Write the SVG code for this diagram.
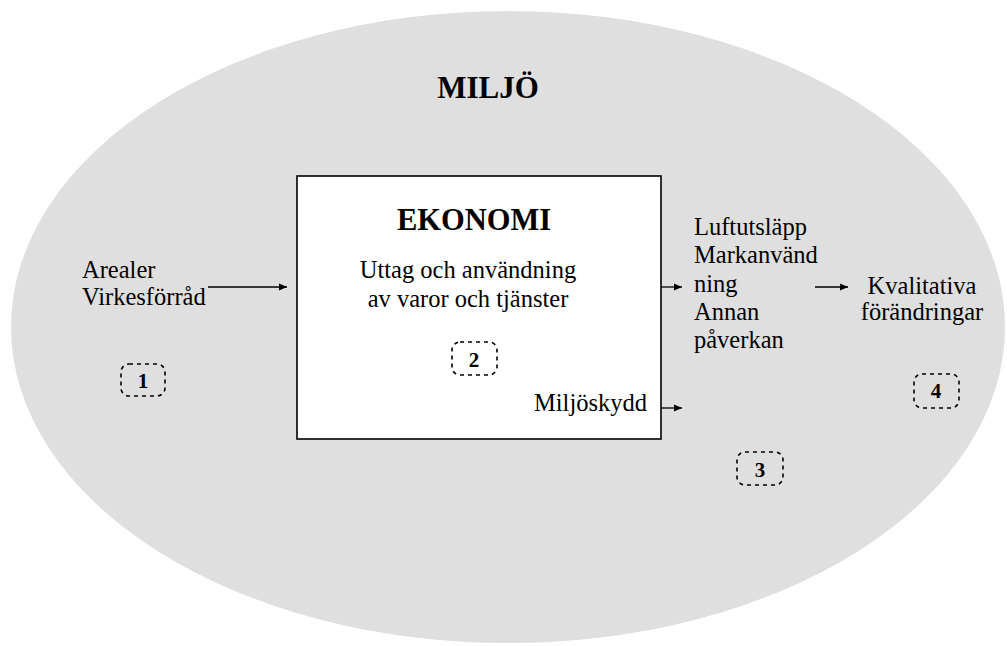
<svg xmlns="http://www.w3.org/2000/svg" width="1007" height="646" viewBox="0 0 1007 646">
<style>
text{font-family:"Liberation Serif","Times New Roman",serif;fill:#000}
.t{font-size:24.5px}
.b{font-weight:bold}
.num{font-size:21px;font-weight:bold;text-anchor:middle}
.nbox{fill:none;stroke:#000;stroke-width:1.6;stroke-dasharray:4 4}
.c{stroke:#000;stroke-width:1.3;fill:none}
</style>
<defs>
<marker id="ah" markerWidth="8" markerHeight="8" refX="8" refY="4" orient="auto" markerUnits="userSpaceOnUse">
<path d="M0,0.5 L8,4 L0,7.5 Z" fill="#000"/>
</marker>
</defs>
<rect width="1007" height="646" fill="#fff"/>
<g id="miljo">
<ellipse cx="508" cy="327" rx="497" ry="316" fill="#dfdfdf"/>
<text class="b" x="488" y="98" font-size="31" text-anchor="middle">MILJÖ</text>
</g>
<g id="ekonomi">
<rect x="297" y="176" width="364" height="263" fill="#fff" stroke="#000" stroke-width="1.6"/>
<text class="b" x="474" y="230" font-size="30.5" text-anchor="middle">EKONOMI</text>
<text class="t" x="468" y="278" text-anchor="middle">Uttag och användning</text>
<text class="t" x="468" y="307" text-anchor="middle">av varor och tjänster</text>
<text class="t" x="647" y="411" text-anchor="end">Miljöskydd</text>
</g>
<g id="resurser">
<text class="t" x="82" y="278">Arealer</text>
<text class="t" x="82" y="305">Virkesförråd</text>
</g>
<g id="paverkan">
<text class="t" x="694" y="235">Luftutsläpp</text>
<text class="t" x="694" y="263">Markanvänd</text>
<text class="t" x="694" y="292">ning</text>
<text class="t" x="694" y="320">Annan</text>
<text class="t" x="694" y="348">påverkan</text>
</g>
<g id="kvalitativa">
<text class="t" x="922" y="294" text-anchor="middle">Kvalitativa</text>
<text class="t" x="922" y="320" text-anchor="middle">förändringar</text>
</g>
<g id="n1"><rect class="nbox" x="121" y="364" width="44" height="32" rx="8"/><text class="num" x="143" y="388">1</text></g>
<g id="n2"><rect class="nbox" x="452" y="342" width="45" height="33" rx="8"/><text class="num" x="474" y="367">2</text></g>
<g id="n3"><rect class="nbox" x="737" y="452" width="46" height="33" rx="8"/><text class="num" x="760" y="477">3</text></g>
<g id="n4"><rect class="nbox" x="914" y="374" width="45" height="34" rx="8"/><text class="num" x="936" y="398">4</text></g>
<g id="connectors">
<line class="c" x1="208" y1="287" x2="287" y2="287" marker-end="url(#ah)"/>
<line class="c" x1="661" y1="287" x2="682" y2="287" marker-end="url(#ah)"/>
<line class="c" x1="815" y1="287" x2="848" y2="287" marker-end="url(#ah)"/>
<line class="c" x1="661" y1="408" x2="682" y2="408" marker-end="url(#ah)"/>
</g>
</svg>
